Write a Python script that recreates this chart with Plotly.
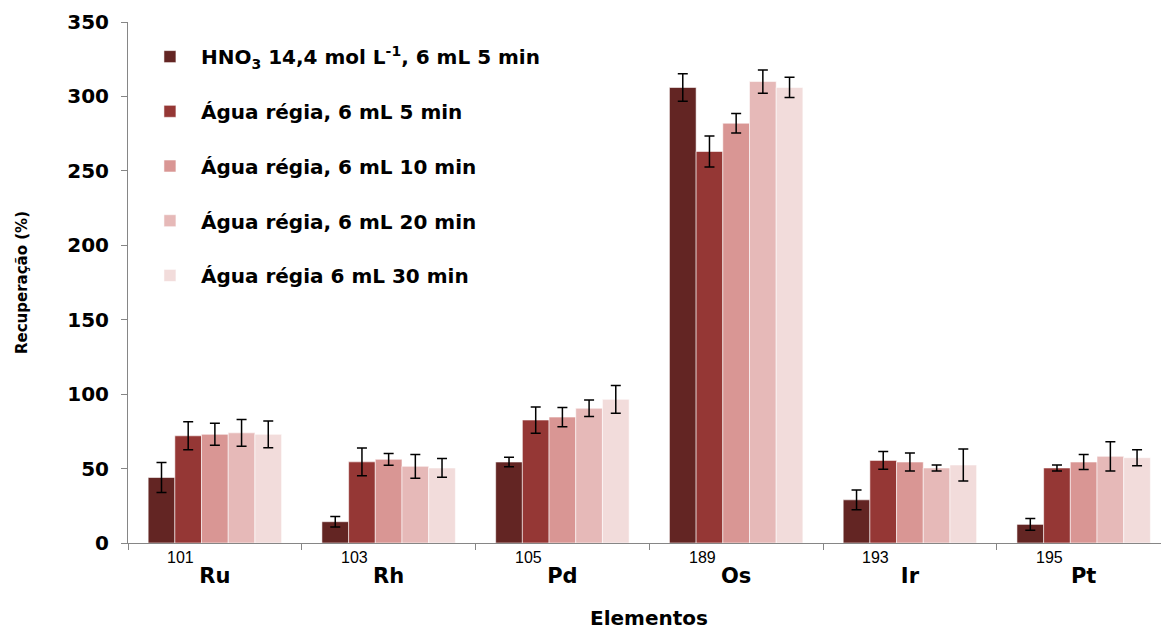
import plotly.graph_objects as go

elements = ["Ru", "Rh", "Pd", "Os", "Ir", "Pt"]
masses = ["101", "103", "105", "189", "193", "195"]

series_names = [
    "HNO<sub>3</sub> 14,4 mol L<sup>-1</sup>, 6 mL 5 min",
    "Água régia, 6 mL 5 min",
    "Água régia, 6 mL 10 min",
    "Água régia, 6 mL 20 min",
    "Água régia 6 mL 30 min",
]
colors = ["#632523", "#953735", "#D99694", "#E6B9B8", "#F2DCDB"]

hno3_5min = [44, 14.3, 54.4, 306, 29, 12.5]
hno3_5min_err = [10, 3.5, 3.2, 9.3, 6.6, 4]
ar_5min = [72, 54.5, 82.6, 263, 55.5, 50.4]
ar_5min_err = [9.4, 9.4, 8.8, 10.4, 6, 2]
ar_10min = [73, 56.2, 84.6, 282, 54.4, 54.4]
ar_10min_err = [7.4, 4, 6.5, 6.5, 6, 5]
ar_20min = [74, 51.5, 90.5, 310, 50.4, 58.2]
ar_20min_err = [9, 8, 5.5, 7.8, 2, 9.8]
ar_30min = [73, 50.4, 96.5, 306, 52.4, 57.3]
ar_30min_err = [9, 6.3, 9.3, 6.8, 10.7, 5.4]

values = [hno3_5min, ar_5min, ar_10min, ar_20min, ar_30min]
errors = [hno3_5min_err, ar_5min_err, ar_10min_err, ar_20min_err, ar_30min_err]

WIDE = "'DejaVu Sans', sans-serif"
NARROW = "Arial, 'Liberation Sans', sans-serif"

fig = go.Figure()
for i in range(5):
    fig.add_trace(go.Bar(
        x=elements, y=values[i], name=series_names[i],
        marker=dict(color=colors[i], line=dict(color="rgba(255,255,255,0.7)", width=0.8)),
        error_y=dict(type="data", array=errors[i], color="black", thickness=1.5, width=5),
        legendgroup=f"g{i}",
    ))

annotations = []
for i, m in enumerate(masses):
    annotations.append(dict(
        x=i, y=0, xref="x", yref="y", text=m, showarrow=False,
        xshift=-34, yshift=-14.5, yanchor="middle", xanchor="center",
        font=dict(family=NARROW, size=16, color="black"),
    ))
annotations.append(dict(
    x=2.5, y=0, xref="x", yref="y", text="<b>Elementos</b>", showarrow=False,
    yshift=-75, yanchor="middle", xanchor="center", height=18, valign="middle",
    font=dict(family=WIDE, size=20, color="black"),
))

fig.update_layout(
    width=1161, height=627,
    margin=dict(l=128, r=0, t=22, b=84, pad=0),
    paper_bgcolor="white", plot_bgcolor="white",
    barmode="group", bargap=0.232, bargroupgap=0,
    font=dict(family=WIDE, color="black"),
    showlegend=True,
    legend=dict(
        x=0.0106, y=0.971, xanchor="left", yanchor="top",
        bgcolor="rgba(0,0,0,0)", traceorder="grouped", tracegroupgap=25.7,
        itemwidth=52,
        font=dict(family=WIDE, size=20, color="black", weight="bold"),
        itemclick=False,
    ),
    annotations=annotations,
)

fig.update_xaxes(
    type="category", range=[-0.5, 5.445],
    showline=True, linecolor="#868686", linewidth=1,
    ticks="outside", tickson="boundaries", ticklen=6, tickcolor="#868686",
    tickfont=dict(family=WIDE, size=21, color="black", weight="bold"),
    ticklabelstandoff=14,
    showgrid=False, zeroline=False,
)
fig.update_yaxes(
    range=[0, 350], dtick=50,
    showline=True, linecolor="#868686", linewidth=1,
    ticks="outside", ticklen=6, tickcolor="#868686",
    tickfont=dict(family=WIDE, size=20, color="black", weight="bold"),
    ticklabelstandoff=8,
    title=dict(text="Recuperação (%)", standoff=36,
               font=dict(family=WIDE, size=15, color="black", weight="bold")),
    showgrid=False, zeroline=False,
)

fig.write_html("out.html")
